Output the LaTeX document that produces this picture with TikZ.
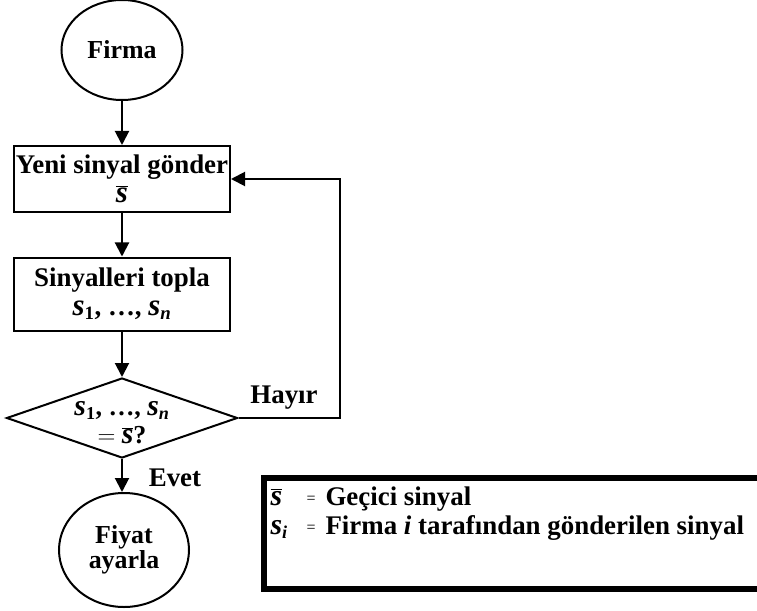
\documentclass[tikz,border=0pt]{standalone}
\usepackage{fontspec}
\setmainfont{Liberation Serif}
\usetikzlibrary{shapes.geometric,arrows.meta}
% bold italic signal symbol, set a little larger than the text
\newcommand{\sig}{\scalebox{1.15}{\textbf{\textit{s}}}}
\newcommand{\sigbar}{$\overline{\mbox{\sig}}$}
\newcommand{\sigsub}[1]{\sig\textsubscript{\textbf{#1}}}
\begin{document}
\begin{tikzpicture}[x=1bp,y=-1bp,
  every node/.style={font=\bfseries\fontsize{27}{29}\selectfont, align=center},
  line/.style={line width=2bp},
  arr/.style={line, -{Triangle[width=14bp,length=14bp]}},
  term/.style={ellipse, draw, line, inner sep=0pt},
  proc/.style={rectangle, draw, line, minimum width=216bp, inner sep=0pt},
  dec/.style={diamond, draw, line, inner sep=0pt, aspect=2.9}]
\useasboundingbox (0,0) rectangle (757,611);

\node[term, minimum width=121bp, minimum height=100bp, font=\bfseries\fontsize{26}{28}\selectfont] (firma) at (122,50) {Firma};
\node[proc, minimum height=66bp] (send) at (122,179) {Yeni sinyal gönder\\[0bp]\sigbar};
\node[proc, minimum height=73bp] (collect) at (122,294) {Sinyalleri topla\\[0bp]\sigsub{1}, …, \sigsub{\textit{n}}};
\node[dec, minimum width=231bp, minimum height=80bp] (check) at (122,418) {};
\node[font=\bfseries\fontsize{26}{28}\selectfont] (checktext) at (122,423) {\sigsub{1}, …, \sigsub{\textit{n}}\\[0bp]$=$ \sigbar?};
\node[term, minimum width=130bp, minimum height=114bp, font=\bfseries\fontsize{26}{27}\selectfont] (price) at (124,550) {Fiyat\\[-2bp]ayarla};

\draw[arr] (firma) -- (send);
\draw[arr] (send) -- (collect);
\draw[arr] (collect) -- (check);
\draw[arr] (check.south) -- (check.south |- price.north);
\node (yes) at (175,478) {Evet};
\draw[arr] (check.east) -- ++(101,0) coordinate (loop) |- (send.east);
\node (no) at (284,398) {Hayır};

% legend
\node[draw, line width=6bp, minimum width=520bp, minimum height=111bp, anchor=north west] (legend) at (261,475) {};
\node[anchor=base west, font=\bfseries\fontsize{26}{30}\selectfont] (l1s) at (267,505) {\sigbar};
\node[anchor=base west, font=\fontsize{16}{18}\selectfont] (l1e) at (303,503) {=};
\node[anchor=base west] (l1t) at (322,505) {Geçici sinyal};
\node[anchor=base west, font=\bfseries\fontsize{26}{30}\selectfont] (l2s) at (267,534) {\sigsub{\textit{i}}};
\node[anchor=base west, font=\fontsize{16}{18}\selectfont] (l2e) at (303,532) {=};
\node[anchor=base west] (l2t) at (322,534) {Firma \textit{i} tarafından gönderilen sinyal};
\end{tikzpicture}
\end{document}
